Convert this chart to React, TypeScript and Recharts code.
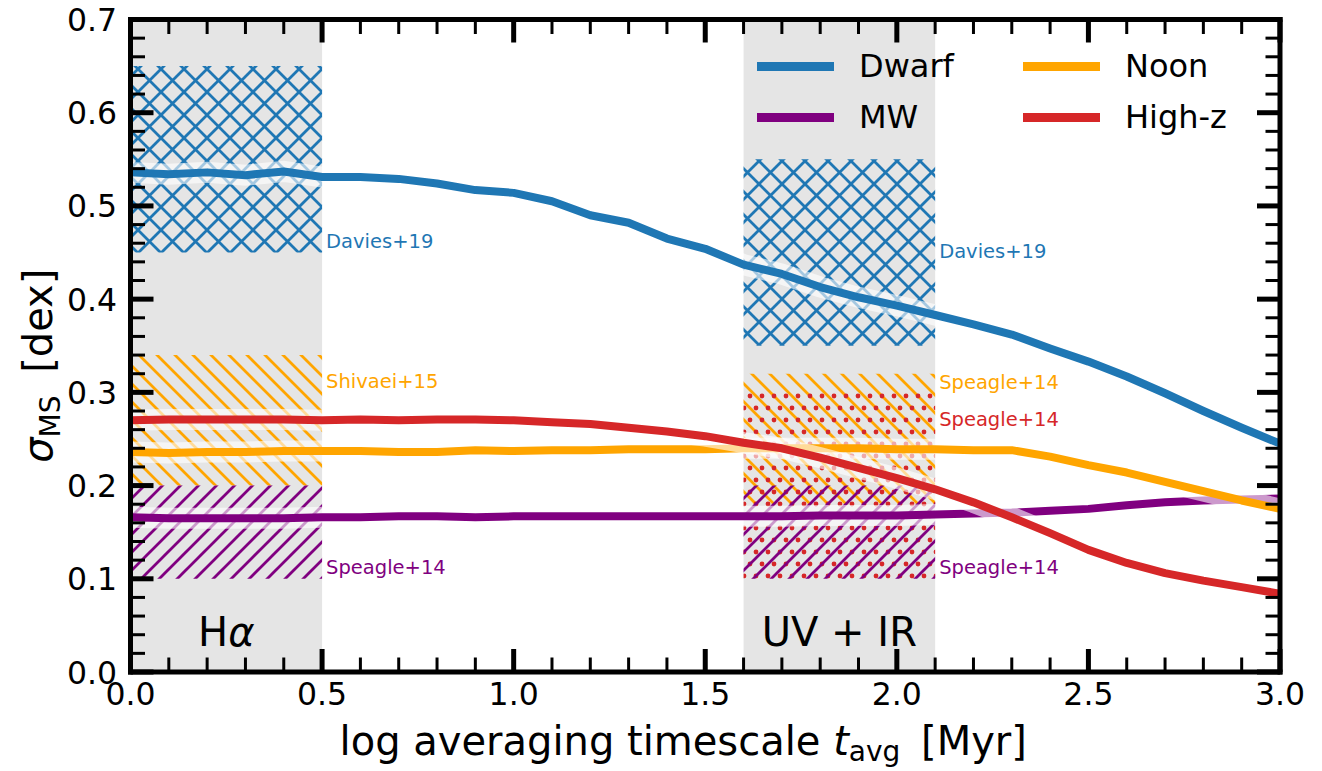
import React from 'react';
import {
  ComposedChart,
  Line,
  XAxis,
  YAxis,
  ReferenceArea,
  ReferenceDot,
  Legend,
  Label,
} from 'recharts';

// log averaging timescale (x values)
const tAvg = [
  0.0, 0.1, 0.2, 0.3, 0.4, 0.5, 0.6, 0.7, 0.8, 0.9, 1.0, 1.1, 1.2, 1.3, 1.4, 1.5,
  1.6, 1.7, 1.8, 1.9, 2.0, 2.1, 2.2, 2.3, 2.4, 2.5, 2.6, 2.7, 2.8, 2.9, 3.0,
];

const dwarf = [
  0.536, 0.534, 0.536, 0.533, 0.537, 0.531, 0.531, 0.529, 0.524, 0.517, 0.514, 0.505,
  0.49, 0.482, 0.465, 0.454, 0.437, 0.427, 0.413, 0.402, 0.393, 0.383, 0.373, 0.362,
  0.347, 0.333, 0.317, 0.299, 0.28, 0.262, 0.245,
];
const mw = [
  0.166, 0.165, 0.165, 0.165, 0.165, 0.166, 0.166, 0.167, 0.167, 0.166, 0.167, 0.167,
  0.167, 0.167, 0.167, 0.167, 0.167, 0.167, 0.168, 0.168, 0.168, 0.169, 0.17, 0.171,
  0.173, 0.175, 0.179, 0.182, 0.184, 0.185, 0.186,
];
const noon = [
  0.236, 0.235, 0.236, 0.236, 0.237, 0.237, 0.237, 0.236, 0.236, 0.238, 0.237, 0.238,
  0.238, 0.239, 0.239, 0.239, 0.24, 0.24, 0.24, 0.24, 0.239, 0.239, 0.238, 0.238,
  0.231, 0.222, 0.214, 0.204, 0.194, 0.184, 0.175,
];
const highz = [
  0.27, 0.271, 0.271, 0.271, 0.271, 0.27, 0.271, 0.27, 0.271, 0.271, 0.27, 0.268,
  0.266, 0.262, 0.258, 0.253, 0.246, 0.24, 0.23, 0.219, 0.208, 0.196, 0.182, 0.166,
  0.149, 0.131, 0.117, 0.106, 0.098, 0.091, 0.084,
];

const series = [
  { key: 'dwarf', name: 'Dwarf', color: '#1f77b4' },
  { key: 'mw', name: 'MW', color: '#800080' },
  { key: 'noon', name: 'Noon', color: '#ffa500' },
  { key: 'highz', name: 'High-z', color: '#d62728' },
];

// SFR indicator windows
const windows = [
  { name: 'H', greek: 'α', from: 0.0, to: 0.5, mid: 0.25 },
  { name: 'UV + IR', greek: '', from: 1.6, to: 2.1, mid: 1.85 },
];

// observed scatter ranges (hatched boxes)
const obsBoxes = [
  { x1: 0.0, x2: 0.5, y1: 0.45, y2: 0.65, hatch: 'hBlue' },
  { x1: 0.0, x2: 0.5, y1: 0.2, y2: 0.34, hatch: 'hOrange' },
  { x1: 0.0, x2: 0.5, y1: 0.1, y2: 0.2, hatch: 'hPurple' },
  { x1: 1.6, x2: 2.1, y1: 0.35, y2: 0.55, hatch: 'hBlue' },
  { x1: 1.6, x2: 2.1, y1: 0.18, y2: 0.32, hatch: 'hOrange' },
  { x1: 1.6, x2: 2.1, y1: 0.1, y2: 0.3, hatch: 'hRed' },
  { x1: 1.6, x2: 2.1, y1: 0.1, y2: 0.2, hatch: 'hPurple' },
];

const obsLabels = [
  { x: 0.5, y: 0.4625, text: 'Davies+19', color: '#1f77b4' },
  { x: 0.5, y: 0.3122, text: 'Shivaei+15', color: '#ffa500' },
  { x: 0.5, y: 0.1127, text: 'Speagle+14', color: '#800080' },
  { x: 2.1, y: 0.4517, text: 'Davies+19', color: '#1f77b4' },
  { x: 2.1, y: 0.311, text: 'Speagle+14', color: '#ffa500' },
  { x: 2.1, y: 0.2715, text: 'Speagle+14', color: '#d62728' },
  { x: 2.1, y: 0.1127, text: 'Speagle+14', color: '#800080' },
];

const xTicks = Array.from({ length: 31 }, (_, i) => i / 10);
const yTicks = Array.from({ length: 36 }, (_, i) => Number((i * 0.02).toFixed(2)));

const rows = tAvg.map((t, i) => ({
  t,
  dwarf: dwarf[i],
  mw: mw[i],
  noon: noon[i],
  highz: highz[i],
}));

const FONT = 'DejaVu Sans';
const isMajorX = (v: number) => Math.abs(v * 2 - Math.round(v * 2)) < 1e-6;
const isMajorY = (v: number) => Math.abs(v * 10 - Math.round(v * 10)) < 1e-6;
const MAJ = 23;
const MIN = 14.5;

const TickBottom = ({ x, y, payload }: any) => {
  const major = isMajorX(payload.value);
  return (
    <g>
      <line x1={x} x2={x} y1={y} y2={y - (major ? MAJ : MIN)} stroke="#000" strokeWidth={major ? 5 : 3} />
      {major && (
        <text x={x} y={y + 33} textAnchor="middle" fontSize={31.5} fontFamily={FONT} fill="#000">
          {payload.value.toFixed(1)}
        </text>
      )}
    </g>
  );
};

const TickTop = ({ x, y, payload }: any) => {
  const major = isMajorX(payload.value);
  return <line x1={x} x2={x} y1={y} y2={y + (major ? MAJ : MIN)} stroke="#000" strokeWidth={major ? 5 : 3} />;
};

const TickLeft = ({ x, y, payload }: any) => {
  const major = isMajorY(payload.value);
  return (
    <g>
      <line x1={x} x2={x + (major ? MAJ : MIN)} y1={y} y2={y} stroke="#000" strokeWidth={major ? 5 : 3} />
      {major && (
        <text x={x - 13.5} y={y + 11.5} textAnchor="end" fontSize={31.5} fontFamily={FONT} fill="#000">
          {payload.value.toFixed(1)}
        </text>
      )}
    </g>
  );
};

const TickRight = ({ x, y, payload }: any) => {
  const major = isMajorY(payload.value);
  return <line x1={x} x2={x - (major ? MAJ : MIN)} y1={y} y2={y} stroke="#000" strokeWidth={major ? 5 : 3} />;
};

const ObsLabel = ({ viewBox, text, color }: any) => (
  <text x={viewBox.x + 4} y={viewBox.y + 7} fontSize={19.5} fontFamily={FONT} fill={color}>
    {text}
  </text>
);

const WindowLabel = ({ viewBox, name, greek }: any) => (
  <text x={viewBox.x} y={viewBox.y} textAnchor="middle" fontSize={40} fontFamily={FONT} fill="#000">
    {name}
    {greek && <tspan fontStyle="italic">{greek}</tspan>}
  </text>
);

const XLabel = ({ viewBox }: any) => (
  <text x={viewBox.x + viewBox.width / 2 - 22} y={755} textAnchor="middle" fontSize={40} fontFamily={FONT} fill="#000">
    log averaging timescale{' '}
    <tspan fontStyle="italic">t</tspan>
    <tspan fontSize={28} dy={6}>avg</tspan>
    <tspan dy={-6} dx={8}> [Myr]</tspan>
  </text>
);

const YLabel = ({ viewBox }: any) => {
  const cx = 52;
  const cy = viewBox.y + viewBox.height / 2 + 20;
  return (
    <text x={cx} y={cy} transform={`rotate(-90, ${cx}, ${cy})`} textAnchor="middle" fontSize={40} fontFamily={FONT} fill="#000">
      <tspan fontStyle="italic">σ</tspan>
      <tspan fontSize={28} dy={8}>MS</tspan>
      <tspan dy={-8} dx={10}> [dex]</tspan>
    </text>
  );
};

const LegendBox = () => (
  <div style={{ position: 'relative', width: 520, height: 110, fontFamily: FONT }}>
    {series.map((s, i) => (
      <div
        key={s.key}
        style={{
          position: 'absolute',
          left: Math.floor(i / 2) * 266,
          top: (i % 2) * 51,
          height: 40,
          display: 'flex',
          alignItems: 'center',
        }}
      >
        <div style={{ width: 77, height: 9, background: s.color }} />
        <span style={{ marginLeft: 25, fontSize: 32, lineHeight: '40px', color: '#000' }}>{s.name}</span>
      </div>
    ))}
  </div>
);

const axisLine = { stroke: '#000', strokeWidth: 5, strokeLinecap: 'square' as const };

export default function App() {
  return (
    <div style={{ position: 'absolute', left: 0, top: 0, fontFamily: FONT }}>
      <ComposedChart
        width={1322}
        height={771}
        data={rows}
        margin={{ top: 18.5, right: 41, bottom: 98, left: 129.5 }}
      >
        <defs>
          <pattern id="hBlue" patternUnits="userSpaceOnUse" width={23} height={23}>
            <path
              d="M-5.75,5.75 L5.75,-5.75 M0,23 L23,0 M17.25,28.75 L28.75,17.25 M0,0 L23,23 M-5.75,17.25 L5.75,28.75 M17.25,-5.75 L28.75,5.75"
              stroke="#1f77b4"
              strokeWidth={2.8}
              fill="none"
            />
          </pattern>
          <pattern id="hOrange" patternUnits="userSpaceOnUse" width={18} height={18}>
            <path d="M0,0 L18,18 M-4.5,13.5 L4.5,22.5 M13.5,-4.5 L22.5,4.5" stroke="#ffa500" strokeWidth={2.8} fill="none" />
          </pattern>
          <pattern id="hPurple" patternUnits="userSpaceOnUse" width={18} height={18}>
            <path d="M-4.5,4.5 L4.5,-4.5 M0,18 L18,0 M13.5,22.5 L22.5,13.5" stroke="#800080" strokeWidth={2.8} fill="none" />
          </pattern>
          <pattern id="hRed" patternUnits="userSpaceOnUse" width={12} height={24}>
            <circle cx={0} cy={0} r={2.4} fill="#d62728" />
            <circle cx={12} cy={0} r={2.4} fill="#d62728" />
            <circle cx={0} cy={24} r={2.4} fill="#d62728" />
            <circle cx={12} cy={24} r={2.4} fill="#d62728" />
            <circle cx={6} cy={12} r={2.4} fill="#d62728" />
          </pattern>
        </defs>

        {windows.map((w) => (
          <ReferenceArea
            key={'win' + w.name}
            x1={w.from}
            x2={w.to}
            y1={0}
            y2={0.7}
            fill="#e5e5e5"
            fillOpacity={1}
            stroke="none"
          />
        ))}
        {obsBoxes.map((b, i) => (
          <ReferenceArea
            key={'box' + i}
            x1={b.x1}
            x2={b.x2}
            y1={b.y1}
            y2={b.y2}
            fill={`url(#${b.hatch})`}
            fillOpacity={1}
            stroke="none"
          />
        ))}

        {series.flatMap((s) => [
          <Line
            key={s.key + '-halo'}
            type="linear"
            dataKey={s.key}
            stroke="#ffffff"
            strokeOpacity={0.6}
            strokeWidth={21}
            dot={false}
            activeDot={false}
            legendType="none"
            isAnimationActive={false}
          />,
          <Line
            key={s.key}
            type="linear"
            dataKey={s.key}
            name={s.name}
            stroke={s.color}
            strokeWidth={8}
            strokeLinejoin="round"
            dot={false}
            activeDot={false}
            isAnimationActive={false}
          />,
        ])}

        {obsLabels.map((l, i) => (
          <ReferenceDot
            key={'lab' + i}
            x={l.x}
            y={l.y}
            r={0}
            fill="none"
            stroke="none"
            label={<ObsLabel text={l.text} color={l.color} />}
          />
        ))}
        {windows.map((w) => (
          <ReferenceDot
            key={'wl' + w.name}
            x={w.mid}
            y={0.028}
            r={0}
            fill="none"
            stroke="none"
            label={<WindowLabel name={w.name} greek={w.greek} />}
          />
        ))}

        <XAxis
          dataKey="t"
          type="number"
          domain={[0, 3]}
          allowDataOverflow
          ticks={xTicks}
          interval={0}
          height={1}
          tickSize={0}
          tickMargin={0}
          tickLine={false}
          tick={TickBottom}
          axisLine={axisLine}
        >
          <Label content={<XLabel />} />
        </XAxis>
        <XAxis
          xAxisId="top"
          orientation="top"
          dataKey="t"
          type="number"
          domain={[0, 3]}
          allowDataOverflow
          ticks={xTicks}
          interval={0}
          height={1}
          tickSize={0}
          tickMargin={0}
          tickLine={false}
          tick={TickTop}
          axisLine={axisLine}
        />
        <YAxis
          type="number"
          domain={[0, 0.7]}
          allowDataOverflow
          ticks={yTicks}
          interval={0}
          width={1}
          tickSize={0}
          tickMargin={0}
          tickLine={false}
          tick={TickLeft}
          axisLine={axisLine}
        >
          <Label content={<YLabel />} />
        </YAxis>
        <YAxis
          yAxisId="right"
          orientation="right"
          type="number"
          domain={[0, 0.7]}
          allowDataOverflow
          ticks={yTicks}
          interval={0}
          width={1}
          tickSize={0}
          tickMargin={0}
          tickLine={false}
          tick={TickRight}
          axisLine={axisLine}
        />

        <Legend
          layout="vertical"
          align="center"
          verticalAlign="middle"
          content={<LegendBox />}
          wrapperStyle={{ position: 'absolute', left: 757, top: 46, width: 520, height: 110 }}
        />
      </ComposedChart>
    </div>
  );
}
